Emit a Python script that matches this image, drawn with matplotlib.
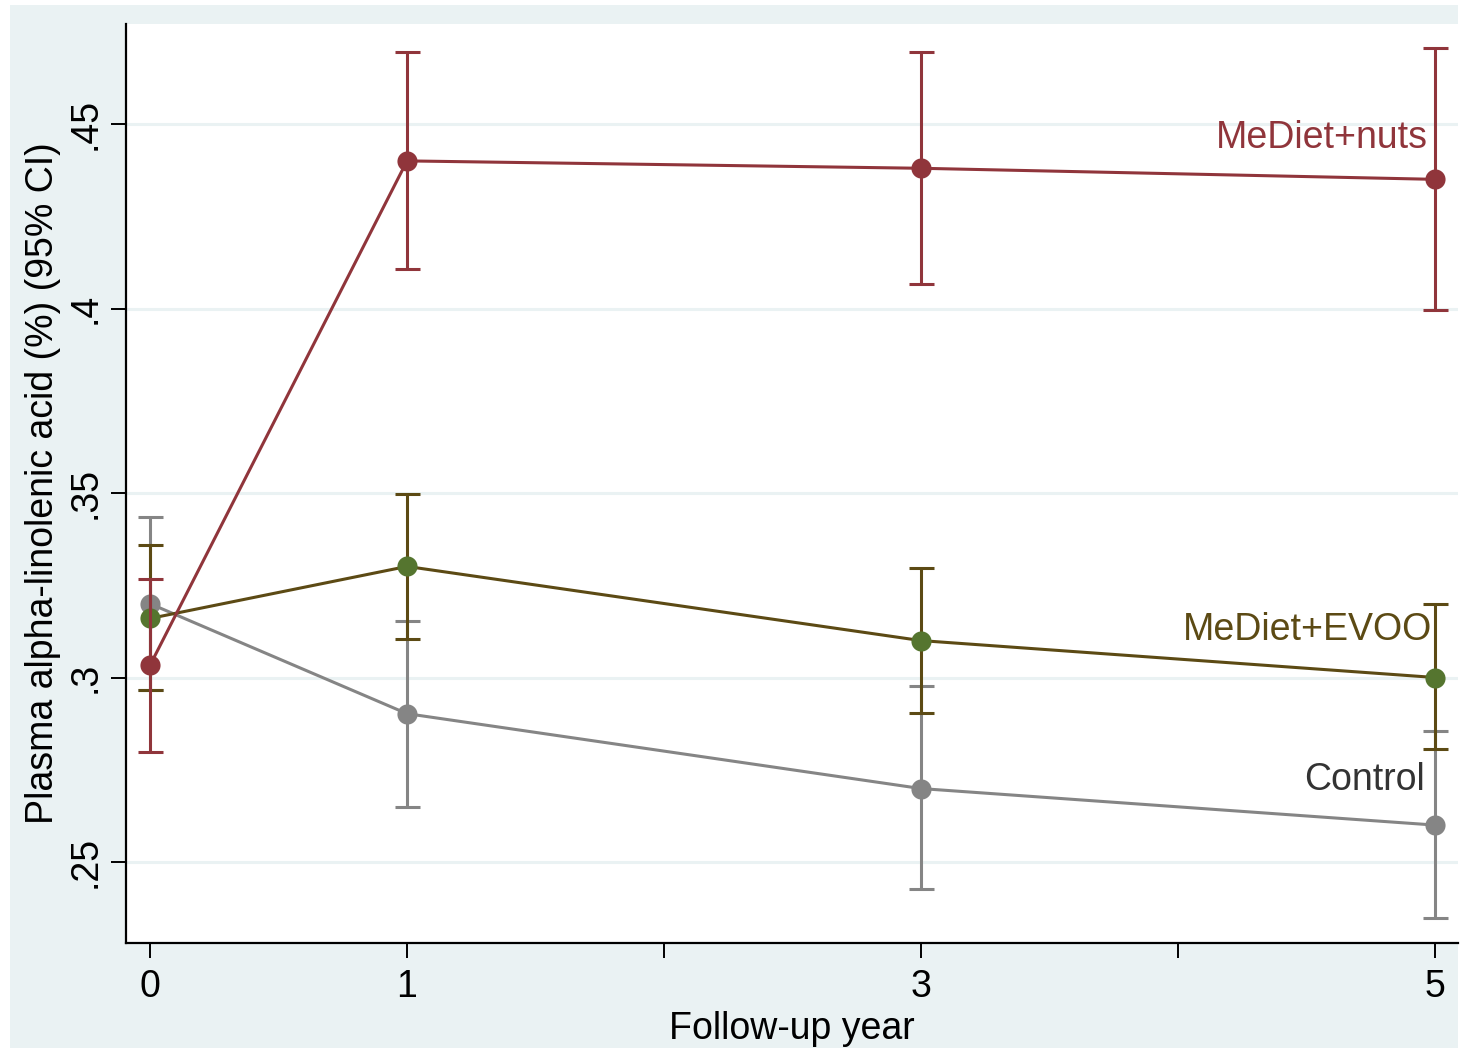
import numpy as np
import matplotlib.pyplot as plt
from matplotlib.patches import Rectangle

# ==== DATA ====
years = [0, 1, 3, 5]

nuts_mean = [0.3033, 0.4400, 0.4380, 0.4350]
nuts_lo   = [0.2797, 0.4107, 0.4066, 0.3997]
nuts_hi   = [0.3268, 0.4695, 0.4695, 0.4706]

evoo_mean = [0.3160, 0.3301, 0.3100, 0.3000]
evoo_lo   = [0.2965, 0.3103, 0.2905, 0.2805]
evoo_hi   = [0.3358, 0.3496, 0.3298, 0.3198]

ctrl_mean = [0.3200, 0.2902, 0.2699, 0.2600]
ctrl_lo   = [0.2965, 0.2648, 0.2427, 0.2348]
ctrl_hi   = [0.3436, 0.3154, 0.2976, 0.2856]

y_ticks = [0.25, 0.30, 0.35, 0.40, 0.45]
y_tick_labels = [".25", ".3", ".35", ".4", ".45"]
x_ticks = [0, 1, 2, 3, 4, 5]
x_tick_labels = ["0", "1", "", "3", "", "5"]

# ==== STYLE ====
plt.rcParams['font.family'] = ['Liberation Sans', 'DejaVu Sans']
BG = "#EAF2F3"
C_NUTS = "#90353B"
C_EVOO_LINE = "#5C4A14"
C_EVOO_MARK = "#55752F"
C_CTRL = "#858585"
FS = 27

W, H = 1461, 1048
fig = plt.figure(figsize=(W / 100, H / 100), dpi=100)
fig.patch.set_facecolor("white")
fig.patches.append(Rectangle((10 / W, 0), (1458 - 10) / W, (H - 5) / H,
                             transform=fig.transFigure, facecolor=BG,
                             edgecolor="none", zorder=-10))

ax = fig.add_axes([126 / W, (H - 943) / H, (1458 - 126) / W, (943 - 24) / H])
ax.set_facecolor("white")


def draw_group(mean, lo, hi, line_c, mark_c, z):
    m = np.array(mean)
    err = np.vstack([m - np.array(lo), np.array(hi) - m])
    ax.errorbar(years, m, yerr=err, fmt="none", ecolor=line_c,
                elinewidth=2.2, capsize=9, capthick=2.2, zorder=z)
    ax.plot(years, m, color=line_c, lw=2.2, zorder=z + 0.1)
    ax.plot(years, m, "o", color=mark_c, ms=14.5, mec="none", zorder=z + 0.2)


draw_group(ctrl_mean, ctrl_lo, ctrl_hi, C_CTRL, C_CTRL, 3)
draw_group(evoo_mean, evoo_lo, evoo_hi, C_EVOO_LINE, C_EVOO_MARK, 4)
draw_group(nuts_mean, nuts_lo, nuts_hi, C_NUTS, C_NUTS, 5)

# group labels at the right end
ax.text(4.97, 0.4463, "MeDiet+nuts", color=C_NUTS, fontsize=FS,
        ha="right", va="center", zorder=6)
ax.text(4.99, 0.3128, "MeDiet+EVOO", color=C_EVOO_LINE, fontsize=FS,
        ha="right", va="center", zorder=6)
ax.text(4.96, 0.2722, "Control", color="#333333", fontsize=FS,
        ha="right", va="center", zorder=6)

ax.set_xlim(-0.0934, 5.089)
ax.set_ylim(0.22805, 0.4771)

ax.set_yticks(y_ticks)
ax.set_yticklabels(y_tick_labels, rotation=90, va="center")
ax.set_xticks(x_ticks)
ax.set_xticklabels(x_tick_labels)
ax.tick_params(axis="both", labelsize=FS, length=11, width=1.4,
               direction="out", color="black")
ax.tick_params(axis="y", pad=5)
ax.tick_params(axis="x", pad=8)

ax.grid(axis="y", color=BG, lw=2.2, zorder=0)
ax.set_axisbelow(True)

for s in ["top", "right"]:
    ax.spines[s].set_visible(False)
for s in ["left", "bottom"]:
    ax.spines[s].set_linewidth(1.6)
    ax.spines[s].set_color("black")

ax.set_ylabel("Plasma alpha-linolenic acid (%) (95% CI)", fontsize=FS, labelpad=5)
ax.set_xlabel("Follow-up year", fontsize=FS, labelpad=4)

fig.savefig("out.png", dpi=100, facecolor=fig.get_facecolor())
